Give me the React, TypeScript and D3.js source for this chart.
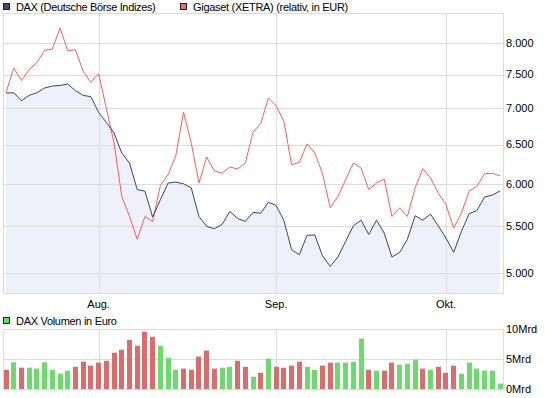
import React from 'react';
import * as d3 from 'd3';

// DAX close, trading days 14.07.2011 - 12.10.2011
const daxValues = [
  7223, 7226, 7110, 7188, 7228, 7297, 7327, 7335, 7357, 7257, 7188, 7169,
  6942, 6802, 6656, 6390, 6261, 5929, 5910, 5606, 5808, 6010, 6021, 6000,
  5950, 5612, 5500, 5474, 5523, 5671, 5590, 5556, 5660, 5650, 5778,
  5740, 5566, 5244, 5191, 5400, 5405, 5180, 5068, 5166, 5334, 5506, 5570,
  5410, 5570, 5425, 5166, 5215, 5357, 5621, 5570, 5640, 5505,
  5371, 5216, 5444, 5645, 5680, 5840, 5863, 5913,
];

// Gigaset, rebased on the DAX start value
const gigasetValues = [
  7230, 7602, 7407, 7576, 7689, 7880, 7902, 8249, 7875, 7890, 7549, 7381,
  7515, 7000, 6520, 5848, 5612, 5357, 5612, 5556, 5980, 6112, 6355, 6948,
  6520, 6010, 6337, 6161, 6130, 6210, 6185, 6261, 6665, 6790, 7150,
  7038, 6817, 6239, 6270, 6510, 6390, 6130, 5713, 5848, 6050, 6261, 6197,
  5929, 6010, 6058, 5612, 5713, 5612, 5950, 6190, 6071, 5888,
  5749, 5481, 5650, 5910, 5970, 6125, 6130, 6098,
];

// DAX turnover in Mrd EUR
const volumeMrd = [
  3.2, 4.45, 3.55, 3.55, 3.4, 4.45, 3.2, 2.55, 3.05, 3.7, 4.55, 3.9,
  4.4, 4.7, 6.05, 6.55, 8.2, 7.2, 9.55, 8.7, 7.2, 5.2, 3.2, 3.4,
  3.2, 5.4, 6.4, 3.4, 3.55, 3.7, 4.7, 3.7, 2.05, 2.7, 5.05,
  3.7, 3.55, 3.9, 4.55, 3.7, 3.2, 3.9, 4.4, 4.4, 4.4, 4.55, 8.4,
  3.2, 3.05, 3.05, 4.4, 4.05, 4.2, 4.9, 3.4, 3.2, 3.7,
  2.7, 3.9, 2.55, 4.4, 3.4, 3.05, 3.05, 0.9,
];

const priceTicks = [5000, 5500, 6000, 6500, 7000, 7500, 8000];
const volumeTicks = [0, 5, 10];
const monthLabels = ['Aug.', 'Sep.', 'Okt.'];

const tradingDays = d3
  .timeDay.range(new Date(2011, 6, 14), new Date(2011, 9, 13))
  .filter((d) => d.getDay() % 6 !== 0);

const de = d3.formatLocale({
  decimal: ',', thousands: '.', grouping: [3], currency: ['', ' €'],
});
const fmt = de.format(',');

const FONT = '"Liberation Sans", Arial, sans-serif';
const GRID = '#dcdcdc';

function App() {
  const left = 3;
  const right = 503;
  const top = 13;
  const bottom = 293;
  const vTop = 329;
  const vBottom = 389;

  const x = d3.scaleLinear().domain([0, daxValues.length - 1]).range([6, 500]);
  const y = d3.scaleLog().domain([4800, 8506]).range([bottom, top]);
  const v = d3.scaleLinear().domain([0, 10]).range([vBottom, vTop]);

  const crisp = (n) => Math.round(n) + 0.5;

  // first trading day of each new month
  const monthStarts = tradingDays
    .map((d, i) => i)
    .filter((i) => i > 0 && tradingDays[i].getMonth() !== tradingDays[i - 1].getMonth());

  const line = d3.line<number>().x((d, i) => x(i)).y((d) => y(d));
  const area = d3.area<number>().x((d, i) => x(i)).y0(bottom).y1((d) => y(d));

  const isUp = (i) => i > 0 && daxValues[i] > daxValues[i - 1];

  return (
    <svg
      width={545}
      height={398}
      style={{ position: 'absolute', left: 0, top: 0, background: '#fff' }}
      fontFamily={FONT}
      fontSize={11}
    >
      {/* legend */}
      <rect x={3.5} y={3.5} width={6} height={6} fill="#3c4c78" stroke="#222" />
      <text x={16} y={11} letterSpacing={-0.35}>DAX (Deutsche Börse Indizes)</text>
      <rect x={180.5} y={3.5} width={6} height={6} fill="#ff6464" stroke="#222" />
      <text x={193} y={11} letterSpacing={-0.3}>Gigaset (XETRA) (relativ, in EUR)</text>

      {/* price panel */}
      <path d={area(daxValues)} fill="#eef1fa" />
      {priceTicks.map((t) => (
        <line key={t} x1={left} x2={right} y1={crisp(y(t))} y2={crisp(y(t))} stroke={GRID} />
      ))}
      {monthStarts.map((i) => (
        <line key={i} x1={crisp(x(i))} x2={crisp(x(i))} y1={top} y2={bottom} stroke={GRID} />
      ))}
      <rect x={left + 0.5} y={top + 0.5} width={right - left} height={bottom - top} fill="none" stroke={GRID} />
      <path d={line(gigasetValues)} fill="none" stroke="#ff5a5a" strokeWidth={1} />
      <path d={line(daxValues)} fill="none" stroke="#34446e" strokeWidth={1} />
      {priceTicks.map((t) => (
        <text key={t} x={506} y={y(t)} dy="0.35em">{fmt(t)}</text>
      ))}
      {monthStarts.map((i, k) => (
        <text key={i} x={x(i)} y={308} textAnchor="middle">{monthLabels[k]}</text>
      ))}

      {/* volume panel */}
      <rect x={3.5} y={317.5} width={6} height={6} fill="#66dd66" stroke="#222" />
      <text x={16} y={325} letterSpacing={-0.3}>DAX Volumen in Euro</text>
      {volumeTicks.map((t) => (
        <line key={t} x1={left} x2={right} y1={crisp(v(t))} y2={crisp(v(t))} stroke={GRID} />
      ))}
      {monthStarts.map((i) => (
        <line key={i} x1={crisp(x(i))} x2={crisp(x(i))} y1={vTop} y2={vBottom} stroke={GRID} />
      ))}
      <line x1={crisp(left)} x2={crisp(left)} y1={vTop} y2={vBottom} stroke={GRID} />
      <line x1={crisp(right)} x2={crisp(right)} y1={vTop} y2={vBottom} stroke={GRID} />
      {volumeMrd.map((d, i) => (
        <rect
          key={i}
          x={Math.round(x(i) - 2.5)}
          y={v(d)}
          width={5}
          height={vBottom - v(d)}
          fill={isUp(i) ? '#6bdb6b' : '#dc6b6b'}
        />
      ))}
      {volumeTicks.map((t) => (
        <text key={t} x={506} y={v(t)} dy="0.35em">{`${t}Mrd`}</text>
      ))}
    </svg>
  );
}

export default App;
